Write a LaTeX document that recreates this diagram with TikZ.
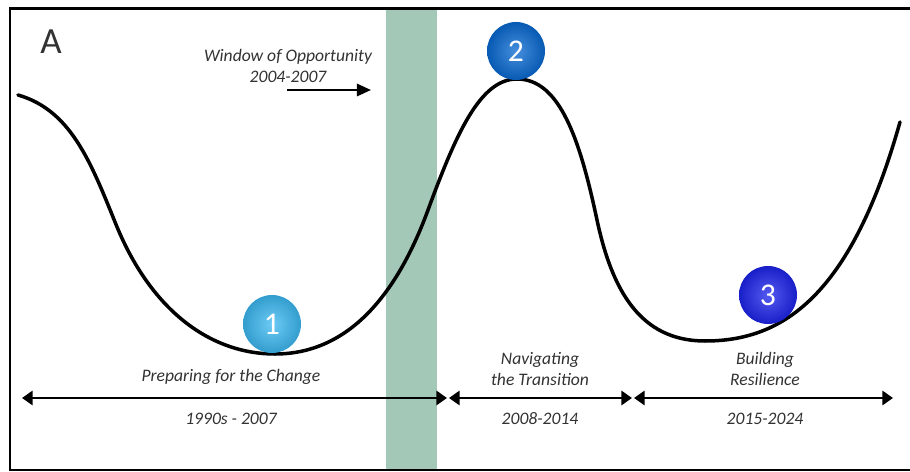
\documentclass[tikz,border=0pt]{standalone}
\usepackage{fontspec}
\setmainfont{Carlito}
\setsansfont{Carlito}
\usepackage{tikz}
\usetikzlibrary{positioning, arrows.meta}

\definecolor{windowgreen}{RGB}{164,200,183}
\definecolor{labelgray}{RGB}{50,50,50}
\definecolor{ballone}{RGB}{60,185,242}
\definecolor{balltwo}{RGB}{8,105,210}
\definecolor{ballthree}{RGB}{28,36,235}

\tikzset{
  phase/.style={font=\itshape\fontsize{10}{12}\selectfont, text=labelgray, align=center, inner sep=1pt},
  stage/.style={circle, minimum size=1.16cm, inner sep=0pt, text=white, font=\fontsize{18}{18}\selectfont,
    shading=radial, inner color=#1!75!white, outer color=#1!85!black},
  span/.style={{Triangle[width=8pt,length=6pt]}-{Triangle[width=8pt,length=6pt]}, line width=1.7pt},
}

\begin{document}
\begin{tikzpicture}
	[x=0.02cm, y=-0.02cm]
   \useasboundingbox (0,0) rectangle (910,472);
   % window of opportunity band
   \fill[windowgreen] (386,10) rectangle (437,470);
   % frame
   \draw[line width=1.7pt] (910,9) -- (10,9) -- (10,470) -- (910,470);
   \node[text=labelgray, font=\fontsize{21}{21}\selectfont] (panel) at (51,42) {A};

   % landscape
   \draw[line width=2pt, line cap=round]
     (18,95) .. controls (70,110) and (90,160) .. (115,222)
             .. controls (150,310) and (210,354) .. (275,354)
             .. controls (345,354) and (395,300) .. (428,210)
             .. controls (456,134) and (480,79) .. (517,79)
             .. controls (560,79) and (580,140) .. (597,220)
             .. controls (612,290) and (640,341) .. (705,341)
             .. controls (780,341) and (850,300) .. (900,122);

   \node[stage=ballone] (s_1) at (272,324) {1};
   \node[stage=balltwo] (s_2) at (516,51) {2};
   \node[stage=ballthree] (s_3) at (768,295) {3};

   % window label
   \node[phase] (win) at (288,66) {Window of Opportunity\\2004-2007};
   \coordinate (w_a) at (287,90);
   \coordinate (w_b) at (371,90);
   \draw[-{Triangle[length=8pt,width=7pt]}, line width=1.2pt] (w_a) -- (w_b);

   % time spans
   \coordinate (t_0) at (22,398);
   \coordinate (t_1) at (447,398);
   \coordinate (t_2) at (449,398);
   \coordinate (t_3) at (632,398);
   \coordinate (t_4) at (634,398);
   \coordinate (t_5) at (893,398);
   \draw[span] (t_0) -- (t_1);
   \draw[span] (t_2) -- (t_3);
   \draw[span] (t_4) -- (t_5);

   \node[phase] (p_1) at (231,377) {Preparing for the Change};
   \node[phase] (p_2) at (540,369) {Navigating\\the Transition};
   \node[phase] (p_3) at (765,369) {Building\\Resilience};
   \node[phase] (y_1) at (231,419) {1990s - 2007};
   \node[phase] (y_2) at (540,419) {2008-2014};
   \node[phase] (y_3) at (765,419) {2015-2024};

\end{tikzpicture}
\end{document}
